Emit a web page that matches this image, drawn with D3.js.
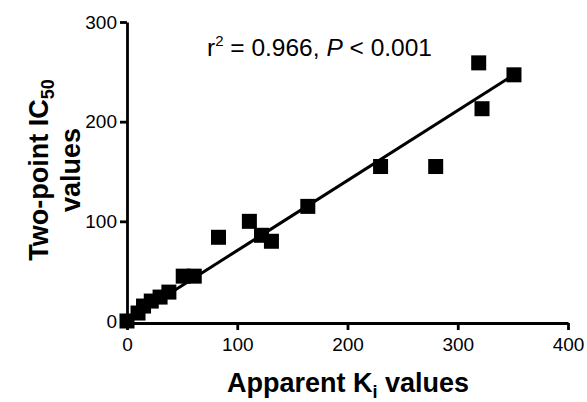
<!DOCTYPE html>
<html>
<head>
<meta charset="utf-8">
<script src="https://cdn.jsdelivr.net/npm/d3@7"></script>
<style>
  body { margin: 0; background: #fff; }
  svg { display: block; font-family: "Liberation Sans", Arial, sans-serif; }
  .tick text { font-size: 19px; fill: #000; }
  .domain, .tick line { stroke: #000; stroke-width: 2.8px; }
</style>
</head>
<body>
<div id="chart"></div>
<script>
// Apparent Ki (x) vs two-point IC50 (y)
const kiValues   = [0, 10, 15, 22, 30, 38, 51, 61, 83, 111, 122, 131, 164, 230, 280, 319, 322, 351];
const ic50Values = [0, 8, 15, 20, 24, 29, 45, 45, 84, 100, 86, 80, 115, 155, 155, 259, 213, 247];
// fitted line ends
const fitX = [0, 351];
const fitY = [0.5, 247];
const xTicks = [0, 100, 200, 300, 400];
const yTicks = [0, 100, 200, 300];

const width = 587, height = 402;

const svg = d3.select("#chart").append("svg")
  .attr("width", width)
  .attr("height", height);

const x = d3.scaleLinear().domain([0, 400]).range([127, 568]);
const y = d3.scaleLinear().domain([0, 300]).range([321, 22]);

// x axis sits a little below zero, like the original
const xAxisY = 323;

svg.append("g")
  .attr("transform", `translate(0,${xAxisY})`)
  .call(d3.axisBottom(x).tickValues(xTicks).tickSize(7).tickSizeOuter(0).tickPadding(5))
  .call(g => g.selectAll(".tick text").attr("dy", "0.85em"));

svg.append("g")
  .attr("transform", `translate(${x(0)},0)`)
  .call(d3.axisLeft(y).tickValues(yTicks).tickSize(7).tickSizeOuter(0).tickPadding(3));

// regression line
const line = d3.line()
  .x(d => x(d[0]))
  .y(d => y(d[1]));

svg.append("path")
  .datum(d3.zip(fitX, fitY))
  .attr("d", line)
  .attr("fill", "none")
  .attr("stroke", "#000")
  .attr("stroke-width", 3);

// points
const sq = 15;
svg.append("g")
  .selectAll("rect")
  .data(d3.zip(kiValues, ic50Values))
  .join("rect")
  .attr("x", d => x(d[0]) - sq / 2)
  .attr("y", d => y(d[1]) - sq / 2)
  .attr("width", sq)
  .attr("height", sq)
  .attr("fill", "#000");

// annotation
const ann = svg.append("text")
  .attr("x", 207)
  .attr("y", 56)
  .attr("font-size", 24.5)
  .attr("fill", "#000");
ann.append("tspan").text("r");
ann.append("tspan").attr("font-size", 15).attr("dy", -10).text("2");
ann.append("tspan").attr("dy", 10).text(" = 0.966,  ");
ann.append("tspan").attr("font-style", "italic").text("P");
ann.append("tspan").text(" < 0.001");

// x title
const xt = svg.append("text")
  .attr("x", 348)
  .attr("y", 392)
  .attr("text-anchor", "middle")
  .attr("font-size", 27)
  .attr("font-weight", "bold");
xt.append("tspan").text("Apparent K");
xt.append("tspan").attr("font-size", 18).attr("dy", 6).text("i");
xt.append("tspan").attr("dy", -6).text(" values");

// y title, two lines
const yt = svg.append("g").attr("transform", "translate(0,170) rotate(-90)");
const y1 = yt.append("text")
  .attr("x", 0)
  .attr("y", 48)
  .attr("text-anchor", "middle")
  .attr("font-size", 27)
  .attr("font-weight", "bold");
y1.append("tspan").text("Two-point IC");
y1.append("tspan").attr("font-size", 18).attr("dy", 6).text("50");
yt.append("text")
  .attr("x", 0)
  .attr("y", 80)
  .attr("text-anchor", "middle")
  .attr("font-size", 27)
  .attr("font-weight", "bold")
  .text("values");
</script>
</body>
</html>
